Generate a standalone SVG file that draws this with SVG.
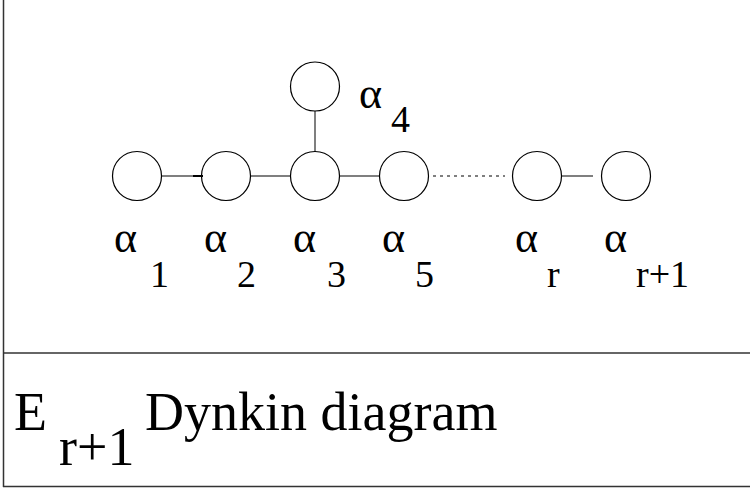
<svg xmlns="http://www.w3.org/2000/svg" width="750" height="489" viewBox="0 0 750 489">
<style>
.n{fill:none;stroke:#000;stroke-width:1.2}
.e{stroke:#555;stroke-width:1.5;fill:none}
.d{stroke:#555;stroke-width:1.5;stroke-dasharray:3,4;fill:none}
.f{stroke:#333;stroke-width:1.5;fill:none}
text{font-family:"Liberation Serif","Times New Roman",serif;fill:#000}
.a{font-size:44px}
.l{font-size:38px}
.t{font-size:54px}
</style>
<rect width="750" height="489" fill="#fff"/>
<g id="frame">
<line class="f" x1="3.5" y1="0" x2="3.5" y2="487"/>
<line class="f" x1="3" y1="353" x2="750" y2="353"/>
<line class="f" x1="3" y1="486.5" x2="750" y2="486.5"/>
</g>
<g id="connectors">
<line class="e" x1="162" y1="176" x2="202" y2="176"/>
<line x1="193" y1="176" x2="203" y2="176" stroke="#000" stroke-width="2"/>
<line class="e" x1="251" y1="176" x2="291" y2="176"/>
<line class="e" x1="340" y1="176" x2="380" y2="176"/>
<line class="e" x1="315" y1="111" x2="315" y2="152"/>
<line class="d" x1="433" y1="176" x2="505" y2="176"/>
<line class="e" x1="562" y1="176" x2="593" y2="176"/>
</g>
<g id="a1"><circle class="n" cx="137" cy="176" r="24.5"/><text class="a" x="114" y="252">α</text><text class="l" x="150" y="287">1</text></g>
<g id="a2"><circle class="n" cx="226" cy="176" r="24.5"/><text class="a" x="204" y="252">α</text><text class="l" x="237" y="287">2</text></g>
<g id="a3"><circle class="n" cx="315" cy="176" r="24.5"/><text class="a" x="293" y="252">α</text><text class="l" x="327" y="287">3</text></g>
<g id="a4"><circle class="n" cx="315" cy="86.5" r="24.5"/><text class="a" x="359" y="108">α</text><text class="l" x="391" y="132">4</text></g>
<g id="a5"><circle class="n" cx="404" cy="176" r="24.5"/><text class="a" x="382" y="252">α</text><text class="l" x="415" y="287">5</text></g>
<g id="ar"><circle class="n" cx="537" cy="176" r="24.5"/><text class="a" x="515" y="252">α</text><text class="l" x="547" y="287">r</text></g>
<g id="ar1"><circle class="n" cx="626" cy="176" r="24.5"/><text class="a" x="604" y="252">α</text><text class="l" x="636" y="287">r+1</text></g>
<g id="caption"><text class="t" x="14" y="430">E</text><text class="t" x="59" y="465">r+1</text><text class="t" x="145" y="430">Dynkin diagram</text></g>
</svg>
